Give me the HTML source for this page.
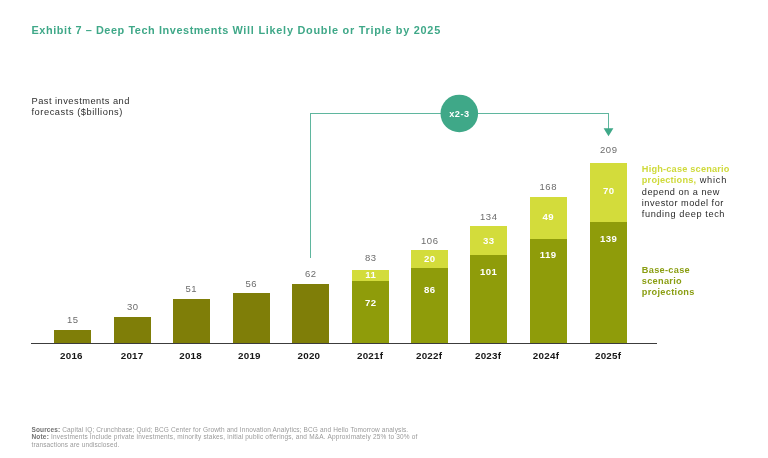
<!DOCTYPE html>
<html lang="en"><head><meta charset="utf-8"><title>Exhibit 7</title>
<style>
html,body{margin:0;padding:0;background:#fff;}
body{width:768px;height:458px;position:relative;overflow:hidden;font-family:"Liberation Sans",Arial,sans-serif;}
.a{position:absolute;white-space:nowrap;}
.bar{position:absolute;}
.past{background:#7f7e08;}
.lo{background:#8f9c0a;}
.hi{background:#d3dc3b;}
.tot{position:absolute;width:60px;text-align:center;font-size:9.5px;color:#6c6c6c;line-height:10px;letter-spacing:.65px;text-indent:.65px;}
.in{position:absolute;width:60px;text-align:center;font-size:9.6px;font-weight:bold;color:#fff;line-height:10px;letter-spacing:.45px;text-indent:.45px;}
.lg{left:641.8px;font-size:9.2px;line-height:11.2px;color:#2a2a2a;letter-spacing:.5px;}
.yr{position:absolute;width:60px;text-align:center;font-size:9.8px;font-weight:bold;color:#161616;line-height:10px;letter-spacing:.25px;text-indent:.25px;}
</style></head><body>
<div class="a" id="title" style="left:31.5px;top:23.5px;font-size:10.9px;line-height:13px;font-weight:bold;color:#3fa888;"><span style="letter-spacing:.575px">Exhibit 7 – Deep Tech Investments </span><span style="letter-spacing:.735px">Will Likely Double or Triple by 2025</span></div>
<div class="a" id="sub" style="left:31.5px;top:95.8px;font-size:9.3px;line-height:10.7px;color:#2e2e2e;"><span style="letter-spacing:.475px">Past investments and</span><br><span style="letter-spacing:.54px">forecasts ($billions)</span></div>
<svg class="a" style="left:0;top:0" width="768" height="458" viewBox="0 0 768 458"><path d="M310.5 257.5 V113.5 H608.5 V129" fill="none" stroke="#5fb69e" stroke-width="1" shape-rendering="crispEdges"/><path d="M603.6 128.2 H613.4 L608.5 136.2 Z" fill="#3fa888"/><circle cx="459.3" cy="113.45" r="18.8" fill="#3fa888"/><text x="459.4" y="117.1" text-anchor="middle" font-family="Liberation Sans, Arial, sans-serif" font-weight="bold" font-size="9.2" letter-spacing=".5" fill="#fff">x2-3</text></svg>
<div class="bar" style="left:31px;top:343.00px;width:626px;height:1px;background:#3c3c3c;"></div>
<div class="bar past" style="left:54px;top:330.20px;width:37px;height:12.80px;"></div><div class="tot" style="left:42.5px;top:314.60px;">15</div>
<div class="bar past" style="left:114px;top:316.90px;width:37px;height:26.10px;"></div><div class="tot" style="left:102.5px;top:302.30px;">30</div>
<div class="bar past" style="left:172.5px;top:298.70px;width:37px;height:44.30px;"></div><div class="tot" style="left:161px;top:283.80px;">51</div>
<div class="bar past" style="left:232.5px;top:293.30px;width:37px;height:49.70px;"></div><div class="tot" style="left:221px;top:278.70px;">56</div>
<div class="bar past" style="left:292px;top:284.00px;width:37px;height:59.00px;"></div><div class="tot" style="left:280.5px;top:268.60px;">62</div>
<div class="bar hi" style="left:352px;top:270.30px;width:37px;height:11.00px;"></div><div class="bar lo" style="left:352px;top:281.30px;width:37px;height:61.70px;"></div><div class="tot" style="left:340.5px;top:253.30px;">83</div><div class="in" style="left:340.5px;top:270.20px;">11</div><div class="in" style="left:340.5px;top:298.30px;">72</div>
<div class="bar hi" style="left:411px;top:250.30px;width:37px;height:17.80px;"></div><div class="bar lo" style="left:411px;top:268.10px;width:37px;height:74.90px;"></div><div class="tot" style="left:399.5px;top:235.80px;">106</div><div class="in" style="left:399.5px;top:254.00px;">20</div><div class="in" style="left:399.5px;top:284.70px;">86</div>
<div class="bar hi" style="left:470px;top:225.90px;width:37px;height:28.80px;"></div><div class="bar lo" style="left:470px;top:254.70px;width:37px;height:88.30px;"></div><div class="tot" style="left:458.5px;top:211.60px;">134</div><div class="in" style="left:458.5px;top:235.80px;">33</div><div class="in" style="left:458.5px;top:267.30px;">101</div>
<div class="bar hi" style="left:529.5px;top:196.90px;width:37px;height:41.85px;"></div><div class="bar lo" style="left:529.5px;top:238.75px;width:37px;height:104.25px;"></div><div class="tot" style="left:518px;top:182.30px;">168</div><div class="in" style="left:518px;top:211.80px;">49</div><div class="in" style="left:518px;top:249.80px;">119</div>
<div class="bar hi" style="left:590px;top:163.20px;width:37px;height:58.50px;"></div><div class="bar lo" style="left:590px;top:221.70px;width:37px;height:121.30px;"></div><div class="tot" style="left:578.5px;top:144.60px;">209</div><div class="in" style="left:578.5px;top:186.10px;">70</div><div class="in" style="left:578.5px;top:233.55px;">139</div>
<div class="yr" style="left:41.3px;top:351.45px;">2016</div>
<div class="yr" style="left:102px;top:351.45px;">2017</div>
<div class="yr" style="left:160.5px;top:351.45px;">2018</div>
<div class="yr" style="left:219.3px;top:351.45px;">2019</div>
<div class="yr" style="left:278.8px;top:351.45px;">2020</div>
<div class="yr" style="left:340px;top:351.45px;">2021f</div>
<div class="yr" style="left:399px;top:351.45px;">2022f</div>
<div class="yr" style="left:458px;top:351.45px;">2023f</div>
<div class="yr" style="left:515.9px;top:351.45px;">2024f</div>
<div class="yr" style="left:578px;top:351.45px;">2025f</div>
<div class="a lg" style="top:163.61px;"><b style="color:#cfda3a;letter-spacing:.2px;">High-case scenario</b></div>
<div class="a lg" style="top:174.81px;"><b style="color:#cfda3a;letter-spacing:.2px;">projections,</b><span style="letter-spacing:.8px"> which</span></div>
<div class="a lg" style="top:187.11px;">depend on a new</div>
<div class="a lg" style="top:198.31px;">investor model for</div>
<div class="a lg" style="top:209.31px;"><span style="letter-spacing:.6px">funding deep tech</span></div>
<div class="a" id="leg2" style="left:641.8px;top:265px;font-size:9.2px;line-height:11px;color:#8a9e12;font-weight:bold;letter-spacing:.3px;">Base-case<br>scenario<br>projections</div>
<div class="a" id="foot" style="left:31.5px;top:425.6px;font-size:6.5px;line-height:7.55px;color:#9a9a9a;letter-spacing:.125px;"><b style="color:#707070">Sources:</b> Capital IQ; Crunchbase; Quid; BCG Center for Growth and Innovation Analytics; BCG and Hello Tomorrow analysis.<br><span style="letter-spacing:.18px"><b style="color:#707070">Note:</b> Investments include private investments, minority stakes, initial public offerings, and M&amp;A. Approximately 25% to 30% of</span><br>transactions are undisclosed.</div>
</body></html>
